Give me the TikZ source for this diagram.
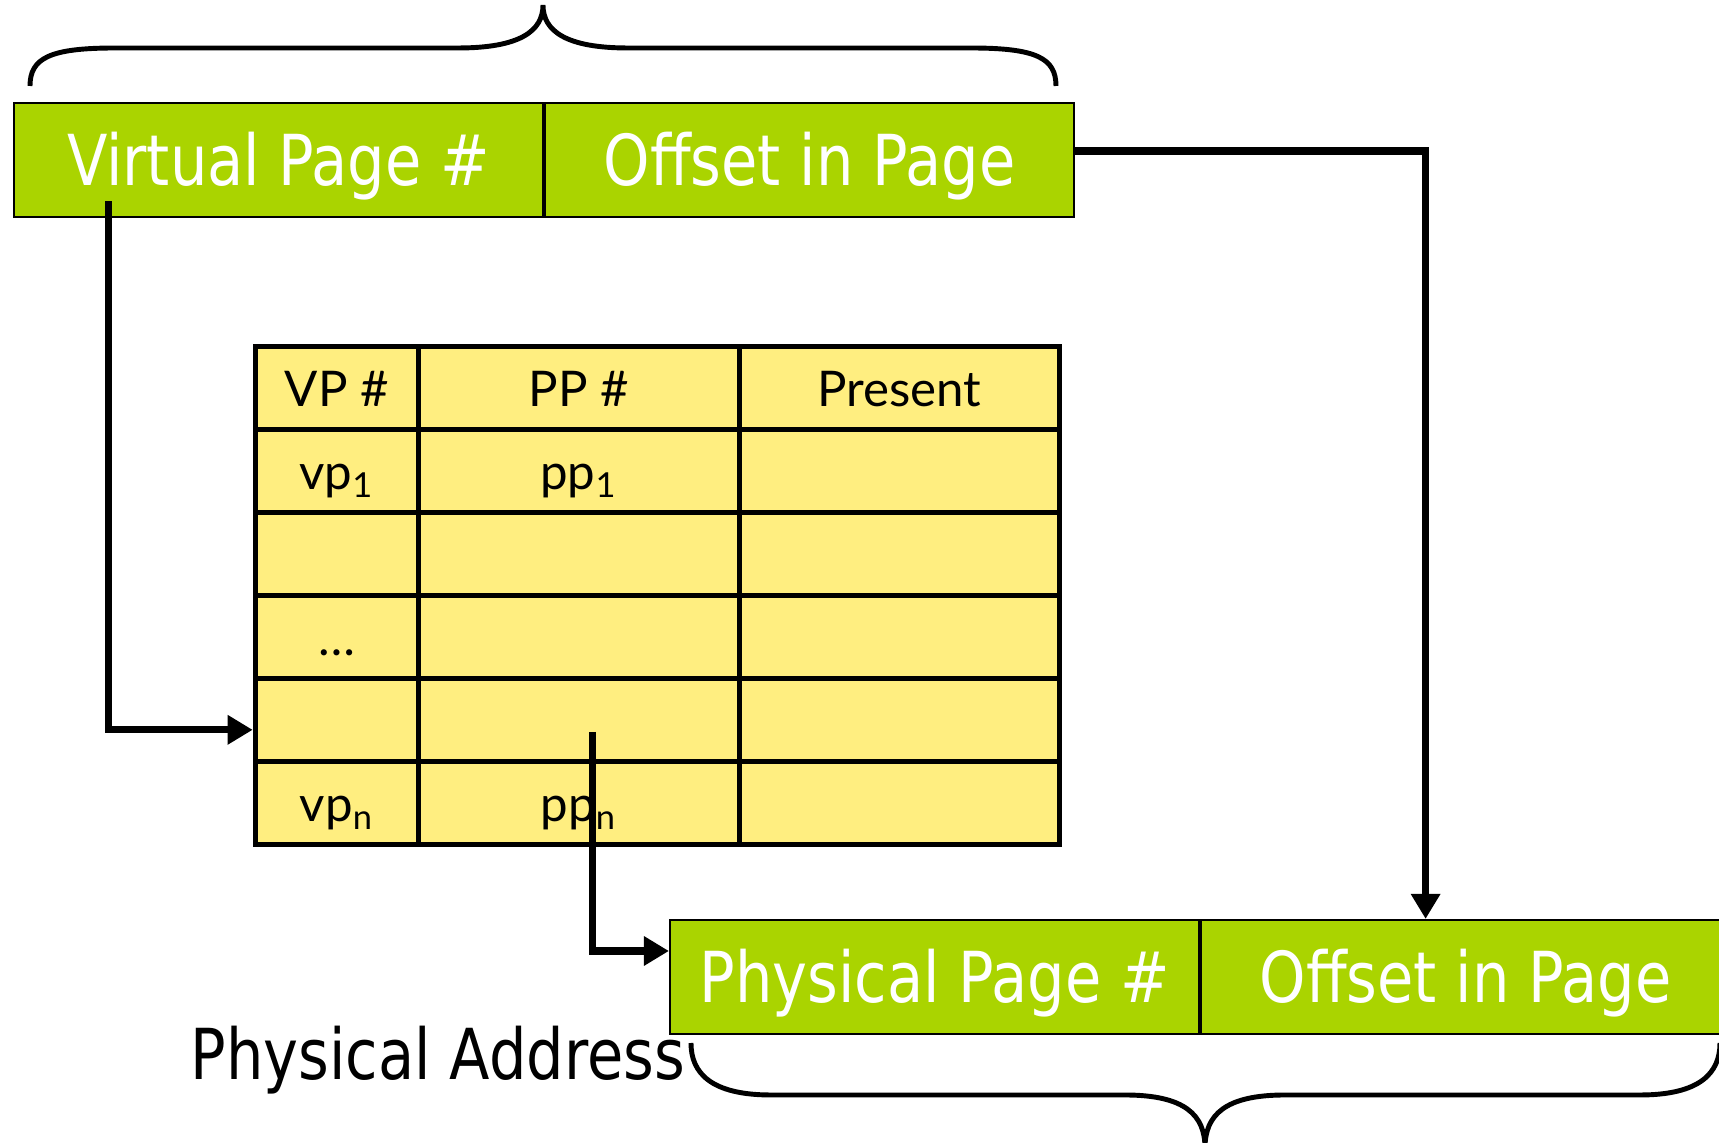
\documentclass[tikz,border=0pt]{standalone}
\usepackage{fontspec}
\usetikzlibrary{arrows.meta, positioning, matrix, calc}
\newfontfamily\handfont{DejaVu Sans}[FakeStretch=0.84]
\newfontfamily\tablefont{Lato}
\definecolor{addrgreen}{RGB}{170,212,0}
\definecolor{tableyellow}{RGB}{255,238,128}

\begin{document}
\begin{tikzpicture}[>={Triangle[length=0.25cm, width=0.28cm]},
    addr/.style={draw, line width=0.6pt, fill=addrgreen, text=white, inner sep=0pt,
        font=\handfont\fontsize{20}{24}\selectfont, text height=14.6pt, text depth=0pt,
        minimum width=5.29cm, minimum height=1.14cm},
    cell/.style={draw, line width=1.5pt, fill=tableyellow, inner sep=0pt,
        font=\tablefont\fontsize{14}{16}\selectfont, text height=10.8pt, text depth=0pt,
        minimum height=0.83cm},
    link/.style={->, line width=2pt},
    brace/.style={line width=1.4pt}]
    \useasboundingbox (0,0) rectangle (17.19,11.43);
    \clip (0,0) rectangle (17.19,11.43);

    % virtual address
    \node[addr] (vpnBox) at (2.785,9.83) {Virtual Page \#};
    \node[addr] (offsetTop) [right=0pt of vpnBox] {Offset in Page};

    % page table
    \matrix (pageTable) [matrix of nodes, nodes in empty cells, anchor=north west, inner sep=0pt,
        column sep=-1.5pt, row sep=-1.5pt, nodes={cell},
        column 1/.style={nodes={minimum width=1.63cm}},
        column 2/.style={nodes={minimum width=3.21cm}},
        column 3/.style={nodes={minimum width=3.20cm}}] at (2.52,8.00) {
        VP \# & PP \# & Present \\
        vp\textsubscript{1} & pp\textsubscript{1} & \\
        & & \\
        \dots & & \\
        & & \\
        vp\textsubscript{n} & pp\textsubscript{n} & \\
    };

    % physical address
    \node[addr] (ppnBox) at (9.345,1.66) {Physical Page \#};
    \node[addr] (offsetBottom) [right=0pt of ppnBox] {Offset in Page};
    \node (physLabel) [anchor=base west, inner sep=0pt, font=\handfont\fontsize{20}{24}\selectfont] at (1.90,0.63) {Physical Address};

    % braces
    \draw[brace] (0.30,10.57) .. controls (0.30,10.85) and (0.50,10.95) .. (1.15,10.95)
        -- (4.58,10.95) .. controls (5.20,10.95) and (5.43,11.12) .. (5.43,11.38)
        .. controls (5.43,11.12) and (5.66,10.95) .. (6.28,10.95)
        -- (9.71,10.95) .. controls (10.36,10.95) and (10.56,10.85) .. (10.56,10.57);
    \draw[brace] (6.91,1.00) .. controls (6.91,0.70) and (7.11,0.48) .. (7.71,0.48)
        -- (11.25,0.48) .. controls (11.85,0.48) and (12.05,0.28) .. (12.05,-0.05)
        .. controls (12.05,0.28) and (12.25,0.48) .. (12.85,0.48)
        -- (16.40,0.48) .. controls (17.00,0.48) and (17.20,0.70) .. (17.20,1.00);

    % connectors
    \coordinate (vpnOut) at ($(vpnBox.south west)+(0.96,0.17)$);
    \coordinate (ppnOut) at ($(pageTable-5-2.center)+(0.14,-0.12)$);
    \draw[link] (vpnOut) |- ([yshift=-0.1cm]pageTable-5-1.west);
    \draw[link] (ppnOut) |- ([yshift=0.26cm]ppnBox.west);
    \draw[link] ([yshift=0.09cm]offsetTop.east) -| ([xshift=-0.4cm]offsetBottom.north);
\end{tikzpicture}
\end{document}
